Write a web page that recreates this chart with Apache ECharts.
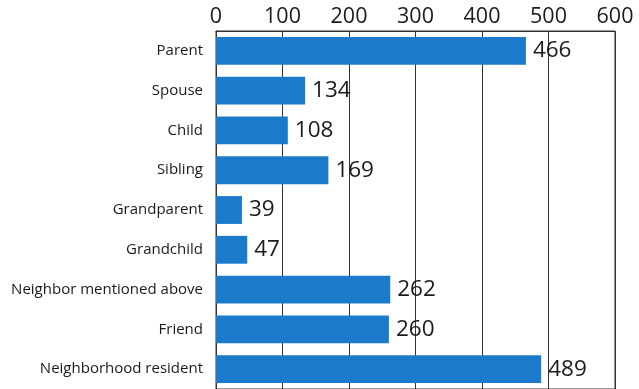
<!DOCTYPE html>
<html>
<head>
<meta charset="utf-8">
<script src="https://cdn.jsdelivr.net/npm/echarts@6/dist/echarts.min.js"></script>
<style>
  html, body { margin: 0; padding: 0; background: #ffffff; }
  #chart { width: 639px; height: 389px; }
</style>
</head>
<body>
<div id="chart"></div>
<script>
// Relationship categories and counts
const categories = [
  'Parent', 'Spouse', 'Child', 'Sibling', 'Grandparent',
  'Grandchild', 'Neighbor mentioned above', 'Friend', 'Neighborhood resident'
];
const counts = [466, 134, 108, 169, 39, 47, 262, 260, 489];
const xTicks = [0, 100, 200, 300, 400, 500, 600];

const chart = echarts.init(document.getElementById('chart'), null, { renderer: 'canvas' });

chart.setOption({
  backgroundColor: '#ffffff',
  animation: false,
  grid: {
    left: 216, top: 31, right: 24, bottom: 0,
    show: true, borderColor: '#333', borderWidth: 1
  },
  xAxis: {
    type: 'value',
    position: 'top',
    min: xTicks[0],
    max: xTicks[xTicks.length - 1],
    interval: xTicks[1] - xTicks[0],
    axisLine: { show: true, lineStyle: { color: '#333', width: 1 } },
    axisTick: { show: false },
    axisLabel: {
      color: '#1a1a1a', fontSize: 21.5, margin: 3,
      fontFamily: 'Open Sans'
    },
    splitLine: { show: true, lineStyle: { color: '#333', width: 1 } }
  },
  yAxis: {
    type: 'category',
    data: categories,
    inverse: true,
    axisLine: { show: true, lineStyle: { color: '#333', width: 1 } },
    axisTick: { show: false },
    axisLabel: {
      color: '#1a1a1a', fontSize: 15, margin: 13,
      fontFamily: 'Open Sans'
    }
  },
  series: [{
    type: 'bar',
    data: counts,
    barCategoryGap: '30%',
    itemStyle: { color: '#1c7acb' },
    label: {
      show: true,
      position: 'right',
      distance: 7,
      color: '#1a1a1a',
      fontSize: 22.5,
      fontFamily: 'Open Sans'
    }
  }]
});
</script>
</body>
</html>
